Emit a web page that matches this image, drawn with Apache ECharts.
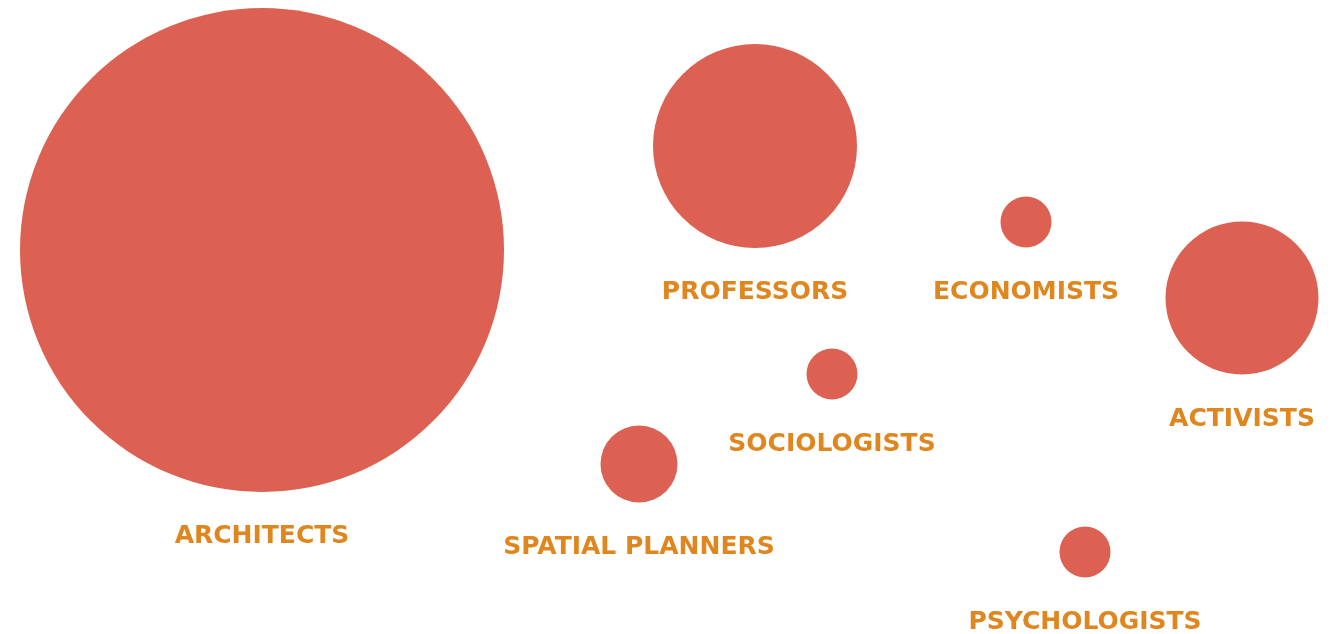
<!DOCTYPE html>
<html>
<head>
<meta charset="utf-8">
<script src="https://cdn.jsdelivr.net/npm/echarts@6/dist/echarts.min.js"></script>
<style>
  html, body { margin: 0; padding: 0; background: #ffffff; }
  #chart { width: 1333px; height: 634px; }
</style>
</head>
<body>
<div id="chart"></div>
<script>
// groups and their bubble positions / diameters
const groups = ['ARCHITECTS', 'PROFESSORS', 'ECONOMISTS', 'ACTIVISTS', 'SOCIOLOGISTS', 'SPATIAL PLANNERS', 'PSYCHOLOGISTS']
const xPos = [262, 755, 1026, 1242, 832, 639, 1085]
const yPos = [250, 146, 222, 298, 374, 464, 552]
const diameters = [484, 204, 51, 153, 51, 77, 51]

const chart = echarts.init(document.getElementById('chart'))

const points = groups.map((name, i) => ({
  name: name,
  value: [xPos[i], yPos[i], diameters[i]],
}))

const option = {
  animation: false,
  grid: { left: 0, right: 0, top: 0, bottom: 0 },
  xAxis: { type: 'value', min: 0, max: 1333, show: false },
  yAxis: { type: 'value', min: 0, max: 634, inverse: true, show: false },
  series: [
    {
      type: 'scatter',
      data: points,
      symbolSize: (val) => val[2],
      itemStyle: { color: '#DC6152', opacity: 1 },
      label: {
        show: true,
        position: 'bottom',
        distance: 32,
        formatter: (p) => p.name,
        color: '#E0861E',
        fontFamily: 'DejaVu Sans',
        fontWeight: 'bold',
        fontSize: 25,
      },
    },
  ],
}

chart.setOption(option)
</script>
</body>
</html>
